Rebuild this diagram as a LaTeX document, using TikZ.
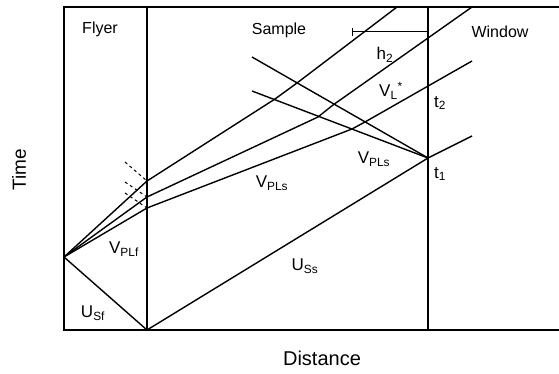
\documentclass[tikz,border=0pt]{standalone}
\usepackage{fontspec}
\setmainfont{Liberation Sans}
\begin{document}
\begin{tikzpicture}[x=1pt,y=-1pt,line width=1.4pt,
  region/.style={font=\fontsize{16}{18}\selectfont,inner sep=0pt},
  wlabel/.style={font=\fontsize{17}{19}\selectfont,inner sep=0pt},
  axis/.style={font=\fontsize{19}{21}\selectfont,inner sep=0pt},
  probe/.style={dashed,line width=1pt,dash pattern=on 3pt off 3pt}]
\useasboundingbox (0,0) rectangle (559,374);
% frame and interfaces
\coordinate (TL) at (64,7); \coordinate (TR) at (559,7);
\coordinate (BL) at (64,330); \coordinate (BR) at (559,330);
\coordinate (FT) at (147,7); \coordinate (FB) at (147,330);
\coordinate (WT) at (428,7); \coordinate (WB) at (428,330);
\draw (TR) -- (TL) -- (BL) -- (BR);
\draw (FT) -- (FB);
\draw (WT) -- (WB);
% impact and waves
\coordinate (A) at (64,257);
\coordinate (P1) at (147,181);
\coordinate (P2) at (147,197);
\coordinate (P3) at (147,208);
\coordinate (T1) at (428,158);
\draw (A) -- (FB) -- (T1) -- (472,136);
\draw (A) -- (P1); \draw (A) -- (P2); \draw (A) -- (P3);
\draw (P1) -- (275,99) -- (297,83) -- (397,7);
\draw (P2) -- (318,117) -- (333,105) -- (472,7);
\draw (P3) -- (352,129) -- (365,122) -- (472,61);
\coordinate (E0) at (252,57);
\coordinate (F0) at (252,91);
\draw (E0) -- (T1);
\draw (F0) -- (T1);
\draw[probe] (125,162) -- (P1);
\draw[probe] (125,182) -- (P2);
\draw[probe] (125,193) -- (P3);
% thickness bar
\coordinate (hL) at (352,32);
\coordinate (hR) at (428,32);
\draw[|-,line width=1pt] (hL) -- (hR);
% labels
\node[region] (flyer) at (100,29) {Flyer};
\node[region] (sample) at (279,30) {Sample};
\node[region] (window) at (500,32) {Window};
\node[wlabel] (h2) at (385,55) {h\textsubscript{2}};
\node[wlabel] (vl) at (391,91) {V\textsubscript{L}\textsuperscript{*}};
\node[wlabel] (t2) at (440,103) {t\textsubscript{2}};
\node[wlabel] (t1) at (440,174) {t\textsubscript{1}};
\node[wlabel] (vpls1) at (374,159) {V\textsubscript{PLs}};
\node[wlabel] (vpls2) at (272,183) {V\textsubscript{PLs}};
\node[wlabel] (vplf) at (124,249) {V\textsubscript{PLf}};
\node[wlabel] (usf) at (93,313) {U\textsubscript{Sf}};
\node[wlabel] (uss) at (305,266) {U\textsubscript{Ss}};
\node[axis,rotate=90] (time) at (19,170) {Time};
\node[axis,font=\fontsize{20}{22}\selectfont] (dist) at (322,358) {Distance};
\end{tikzpicture}
\end{document}
